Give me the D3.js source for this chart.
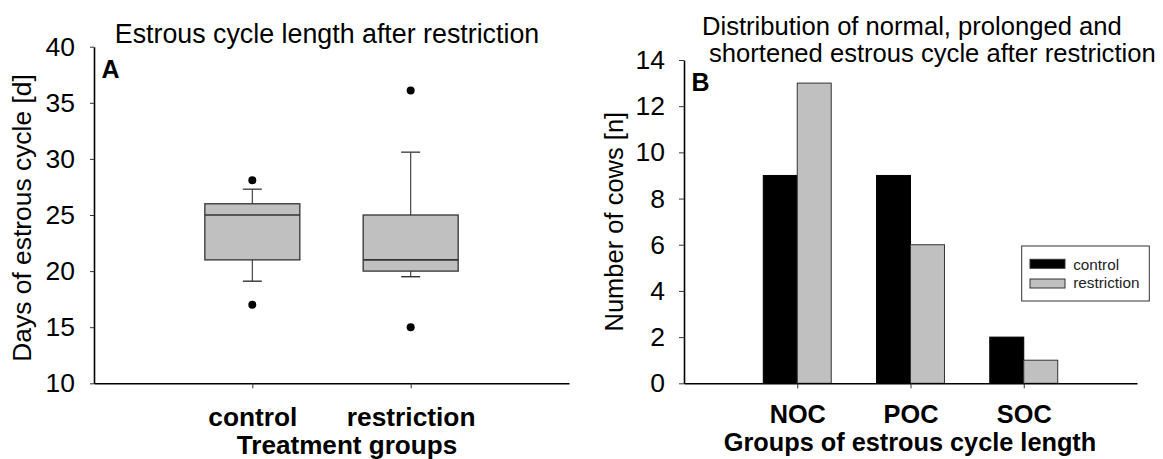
<!DOCTYPE html>
<html>
<head>
<meta charset="utf-8">
<script src="https://cdn.jsdelivr.net/npm/d3@7"></script>
<style>
  html, body { margin: 0; padding: 0; background: #fff; }
  svg { display: block; font-family: "Liberation Sans", Arial, Helvetica, sans-serif; }
</style>
</head>
<body>
<svg id="chart" width="1163" height="459"></svg>
<script>
// ---- Panel A: estrous cycle length (box plots) ----
const treatmentGroups = ["control", "restriction"];
const boxQ1 = [21, 20];
const boxMedian = [25, 21];
const boxQ3 = [26, 25];
const whiskerLow = [19.1, 19.5];
const whiskerHigh = [27.3, 30.6];
const outlierValues = [[28.1, 17.0], [36.1, 15.0]];
const daysTicks = [10, 15, 20, 25, 30, 35, 40];

// ---- Panel B: distribution of cycle-length groups ----
const cycleGroups = ["NOC", "POC", "SOC"];
const seriesNames = ["control", "restriction"];
const controlCounts = [9, 9, 2];
const restrictionCounts = [13, 6, 1];
const cowTicks = [0, 2, 4, 6, 8, 10, 12, 14];

const seriesColors = ["#000000", "#c0c0c0"];
const boxFill = "#c0c0c0";

const svg = d3.select("#chart");

function styleAxis(g, fontSize, bold) {
  g.select(".domain").attr("stroke", "#000").attr("stroke-width", 1.6);
  g.selectAll(".tick line").attr("stroke", "#333").attr("stroke-width", 1);
  g.selectAll(".tick text")
    .attr("fill", "#000")
    .style("font-size", fontSize + "px")
    .style("font-weight", bold ? "bold" : "normal")
    .style("font-family", '"Liberation Sans", Arial, sans-serif');
}

// ================= Panel A =================
const xA = d3.scalePoint().domain(treatmentGroups).range([94, 569]).padding(1);
const yA = d3.scaleLinear().domain([10, 40]).range([383.3, 46.7]);
const boxW = (xA.range()[1] - xA.range()[0]) * 0.2;
const capW = (xA.range()[1] - xA.range()[0]) * 0.04;

const gA = svg.append("g");

gA.append("g")
  .attr("transform", `translate(${xA.range()[0]},0)`)
  .call(d3.axisLeft(yA).tickValues(daysTicks).tickSize(4).tickSizeOuter(0).tickPadding(15).tickFormat(d3.format("d")))
  .call(g => styleAxis(g, 26.5, false));

gA.append("g")
  .attr("transform", `translate(0,${yA(10)})`)
  .call(d3.axisBottom(xA).tickSize(5).tickSizeOuter(0).tickPadding(19))
  .call(g => styleAxis(g, 26.3, true));

const boxes = gA.append("g").selectAll("g.box")
  .data(treatmentGroups.map((name, i) => ({
    name, q1: boxQ1[i], med: boxMedian[i], q3: boxQ3[i],
    lo: whiskerLow[i], hi: whiskerHigh[i], out: outlierValues[i]
  })))
  .join("g").attr("class", "box");

// whiskers
boxes.append("line")
  .attr("x1", d => xA(d.name)).attr("x2", d => xA(d.name))
  .attr("y1", d => yA(d.q3)).attr("y2", d => yA(d.hi))
  .attr("stroke", "#444").attr("stroke-width", 1.2);
boxes.append("line")
  .attr("x1", d => xA(d.name)).attr("x2", d => xA(d.name))
  .attr("y1", d => yA(d.q1)).attr("y2", d => yA(d.lo))
  .attr("stroke", "#444").attr("stroke-width", 1.2);
boxes.append("line")
  .attr("x1", d => xA(d.name) - capW / 2).attr("x2", d => xA(d.name) + capW / 2)
  .attr("y1", d => yA(d.hi)).attr("y2", d => yA(d.hi))
  .attr("stroke", "#444").attr("stroke-width", 1.4);
boxes.append("line")
  .attr("x1", d => xA(d.name) - capW / 2).attr("x2", d => xA(d.name) + capW / 2)
  .attr("y1", d => yA(d.lo)).attr("y2", d => yA(d.lo))
  .attr("stroke", "#333").attr("stroke-width", 1.4);

// box body
boxes.append("rect")
  .attr("x", d => xA(d.name) - boxW / 2)
  .attr("width", boxW)
  .attr("y", d => yA(d.q3))
  .attr("height", d => yA(d.q1) - yA(d.q3))
  .attr("fill", boxFill)
  .attr("stroke", "#333").attr("stroke-width", 1.3);

// median
boxes.append("line")
  .attr("x1", d => xA(d.name) - boxW / 2).attr("x2", d => xA(d.name) + boxW / 2)
  .attr("y1", d => yA(d.med)).attr("y2", d => yA(d.med))
  .attr("stroke", "#333").attr("stroke-width", 1.6);

// outliers
boxes.selectAll("circle")
  .data(d => d.out.map(v => ({ name: d.name, v })))
  .join("circle")
  .attr("cx", d => xA(d.name)).attr("cy", d => yA(d.v))
  .attr("r", 4).attr("fill", "#000");

gA.append("text")
  .attr("x", 327).attr("y", 43).attr("text-anchor", "middle")
  .style("font-size", "26.8px").text("Estrous cycle length after restriction");
gA.append("text")
  .attr("x", 101.5).attr("y", 78)
  .style("font-size", "25px").style("font-weight", "bold").text("A");
gA.append("text")
  .attr("transform", "translate(31,218) rotate(-90)")
  .attr("text-anchor", "middle")
  .style("font-size", "26.4px").text("Days of estrous cycle [d]");
gA.append("text")
  .attr("x", 347).attr("y", 453.5).attr("text-anchor", "middle")
  .style("font-size", "26.1px").style("font-weight", "bold").text("Treatment groups");

// ================= Panel B =================
const xB = d3.scalePoint().domain(cycleGroups).range([684, 1137]).padding(1);
const yB = d3.scaleLinear().domain([0, 14]).range([383.3, 60]);
const xSeries = d3.scaleBand().domain(seriesNames).range([-xB.step() * 0.3, xB.step() * 0.3]);

const gB = svg.append("g");

gB.append("g")
  .attr("transform", `translate(${xB.range()[0]},0)`)
  .call(d3.axisLeft(yB).tickValues(cowTicks).tickSize(5).tickSizeOuter(0).tickPadding(14).tickFormat(d3.format("d")))
  .call(g => styleAxis(g, 26.5, false));

const barData = [];
cycleGroups.forEach((grp, i) => {
  barData.push({ grp, series: "control", v: controlCounts[i] });
  barData.push({ grp, series: "restriction", v: restrictionCounts[i] });
});

gB.append("g").selectAll("rect")
  .data(barData)
  .join("rect")
  .attr("x", d => xB(d.grp) + xSeries(d.series))
  .attr("width", xSeries.bandwidth())
  .attr("y", d => yB(d.v))
  .attr("height", d => yB(0) - yB(d.v))
  .attr("fill", d => seriesColors[seriesNames.indexOf(d.series)])
  .attr("stroke", d => d.series === "control" ? "#000" : "#333")
  .attr("stroke-width", 1);

gB.append("g")
  .attr("transform", `translate(0,${yB(0)})`)
  .call(d3.axisBottom(xB).tickSize(5).tickSizeOuter(0).tickPadding(17))
  .call(g => styleAxis(g, 25.3, true));

const titleB = gB.append("text").style("font-size", "25.6px");
titleB.append("tspan").attr("x", 702).attr("y", 34.5).text("Distribution of normal, prolonged and");
titleB.append("tspan").attr("x", 709).attr("y", 62).text("shortened estrous cycle after restriction");

gB.append("text")
  .attr("x", 691.5).attr("y", 91)
  .style("font-size", "25px").style("font-weight", "bold").text("B");
gB.append("text")
  .attr("transform", `translate(623,${(yB(0) + yB(14)) / 2}) rotate(-90)`)
  .attr("text-anchor", "middle")
  .style("font-size", "25.5px").text("Number of cows [n]");
gB.append("text")
  .attr("x", 910).attr("y", 451).attr("text-anchor", "middle")
  .style("font-size", "25.3px").style("font-weight", "bold").text("Groups of estrous cycle length");

// legend
const legend = gB.append("g").attr("transform", "translate(1021.7,246)");
legend.append("rect")
  .attr("width", 127.6).attr("height", 55)
  .attr("fill", "#fff").attr("stroke", "#333").attr("stroke-width", 1);
seriesNames.forEach((name, i) => {
  legend.append("rect")
    .attr("x", 8.3).attr("y", 13.3 + i * 19.7)
    .attr("width", 35).attr("height", 9)
    .attr("fill", seriesColors[i]).attr("stroke", "#333").attr("stroke-width", 1);
  legend.append("text")
    .attr("x", 51.5).attr("y", 23.5 + i * 18.5)
    .style("font-size", "15.3px").attr("fill", "#222").text(name);
});
</script>
</body>
</html>
